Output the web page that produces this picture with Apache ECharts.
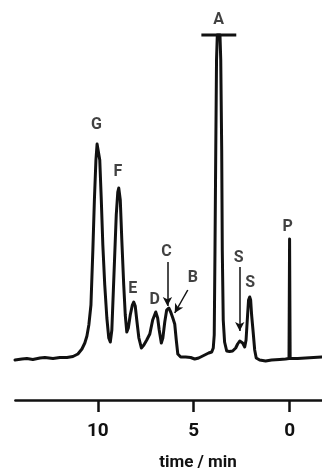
<!DOCTYPE html>
<html>
<head>
<meta charset="utf-8">
<script src="https://cdn.jsdelivr.net/npm/echarts@6/dist/echarts.min.js"></script>
<style>
html,body{margin:0;padding:0;background:#fff;}
#chart{width:322px;height:468px;}
</style>
</head>
<body>
<div id="chart"></div>
<script>
// retention time (min) and detector signal (arbitrary units)
const times = [14.32,13.96,13.70,13.39,13.02,12.76,12.34,11.98,11.61,11.30,11.04,10.83,10.68,10.57,10.47,10.36,10.26,10.18,10.10,10.04,9.97,9.90,9.82,9.74,9.64,9.53,9.43,9.35,9.27,9.19,9.11,9.04,8.96,8.91,8.83,8.75,8.65,8.57,8.49,8.41,8.31,8.20,8.13,8.05,7.97,7.86,7.73,7.60,7.45,7.29,7.14,6.98,6.88,6.80,6.69,6.61,6.51,6.41,6.30,6.20,6.09,5.99,5.91,5.83,5.68,5.42,5.16,4.95,4.74,4.48,4.22,4.06,3.98,3.93,3.89,3.85,3.81,3.77,3.63,3.59,3.54,3.51,3.46,3.39,3.28,3.13,2.97,2.81,2.71,2.60,2.53,2.45,2.34,2.27,2.19,2.14,2.08,2.03,1.98,1.90,1.82,1.74,1.56,1.25,0.94,0.52,0.21,0.03,0.0,-0.03,-0.10,-0.42,-0.83,-1.25,-1.67];
const signal = [40,41,41.5,40.5,42,42.5,41.5,42.5,42.5,43.5,46,51,57,64,75,95,150,200,240,256,257,240,200,155,115,82,62,58,70,110,150,185,208,212,200,160,115,85,68,72,85,95,98,94,80,62,52,55,60,66,80,88,82,70,57,62,78,90,92,88,82,76,60,46,43,43,42.5,41,42,44.5,47,48,52,65,150,250,340,365,365,340,250,150,80,58,49,48.5,49,52,56,59,60,57,53,60,85,100,103,100,85,68,50,42,40,39,40,40.5,41,41.5,161,41.5,41,41.5,42,42.5,43];

// clipped top of peak A (off-scale bar)
const clipBarTimes = [4.60, 2.78];
const clipBarLevel = 365;

// peak labels
const peakNames = ['G','F','E','D','C','B','A','S','S','P'];
const peakLabelT = [10.07,8.96,8.18,7.03,6.42,5.05,3.70,2.66,2.06,0.10];
const peakLabelV = [275,228,111,100,148,122,380,142,117,173];

// arrows [t0, v0, t1, v1]
const arrowC = [6.37,138,6.37,94];
const arrowB = [5.31,110,5.99,87];
const arrowS = [2.60,133,2.60,69];

// x ticks
const tickValues = [0,5,10];

const INK = '#111';
const chart = echarts.init(document.getElementById('chart'), null, {renderer:'canvas'});
const mkArrow = a => [{coord:[a[0],a[1]]},{coord:[a[2],a[3]]}];

chart.setOption({
  animation:false,
  backgroundColor:'#fff',
  grid:{left:15.4, right:0.4, top:0, bottom:68, containLabel:false, outerBoundsMode:'none'},
  xAxis:{
    type:'value', inverse:true, min:-1.67, max:14.3,
    axisLine:{show:true, lineStyle:{color:INK, width:2.5}},
    axisTick:{show:true, length:12, inside:false, customValues:tickValues, lineStyle:{color:INK, width:2.5}},
    axisLabel:{show:true, customValues:tickValues, margin:22, color:INK, fontSize:19, fontFamily:'Roboto', fontWeight:'bold'},
    splitLine:{show:false},
    name:'time / min', nameLocation:'middle', nameGap:54,
    nameTextStyle:{color:INK, fontSize:17, fontFamily:'Roboto', fontWeight:'bold', padding:[0,0,0,59]}
  },
  yAxis:{type:'value', min:0, max:400, show:false},
  series:[
    {
      type:'line', data:times.map((t,i)=>[t,signal[i]]),
      showSymbol:false, symbol:'none', smooth:false,
      lineStyle:{color:INK, width:3, join:'round', cap:'round'},
      markLine:{
        silent:true, symbol:['none','arrow'], symbolSize:[7,9],
        label:{show:false},
        lineStyle:{color:INK, width:1.5, type:'solid'},
        data:[mkArrow(arrowC), mkArrow(arrowB), mkArrow(arrowS)]
      }
    },
    {
      type:'line', data:clipBarTimes.map(t=>[t,clipBarLevel]),
      showSymbol:false, symbol:'none', lineStyle:{color:INK, width:3}
    },
    {
      type:'scatter', symbolSize:0,
      data:peakNames.map((n,i)=>({name:n, value:[peakLabelT[i],peakLabelV[i]]})),
      label:{show:true, position:'inside', formatter:'{b}', color:INK, fontSize:16, fontFamily:'Roboto', fontWeight:'bold'}
    }
  ]
});
</script>
</body>
</html>
